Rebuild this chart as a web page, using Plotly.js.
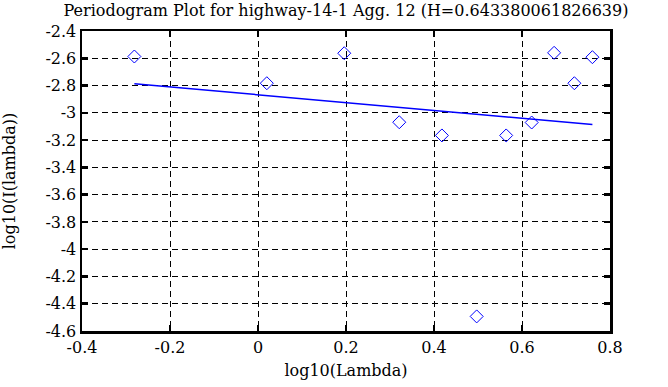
<!DOCTYPE html>
<html>
<head>
<meta charset="utf-8">
<script src="https://cdn.plot.ly/plotly-3.0.1.min.js"></script>
<style>
  html, body { margin: 0; padding: 0; background: #ffffff; }
  #chart { width: 668px; height: 387px; }
</style>
</head>
<body>
<div id="chart"></div>
<script>
// log10(Lambda) for each periodogram point
const logLambda = [-0.281, 0.020, 0.196, 0.321, 0.418, 0.497, 0.564, 0.622, 0.673, 0.719, 0.760];
// log10(I(lambda)) for each periodogram point
const logI = [-2.587, -2.783, -2.563, -3.069, -3.166, -4.493, -3.166, -3.071, -2.560, -2.783, -2.592];
// least-squares fit line end points
const fitX = [-0.281, 0.760];
const fitY = [-2.787, -3.086];

const xTickVals = [-0.4, -0.2, 0, 0.2, 0.4, 0.6, 0.8];
const xTickText = ["-0.4", "-0.2", "0", "0.2", "0.4", "0.6", "0.8"];
const yTickVals = [-2.4, -2.6, -2.8, -3, -3.2, -3.4, -3.6, -3.8, -4, -4.2, -4.4, -4.6];
const yTickText = ["-2.4", "-2.6", "-2.8", "-3", "-3.2", "-3.4", "-3.6", "-3.8", "-4", "-4.2", "-4.4", "-4.6"];

const titleText = "Periodogram Plot for highway-14-1 Agg. 12 (H=0.643380061826639)";
const xTitle = "log10(Lambda)";
const yTitle = "log10(I(lambda))";

const FONT = "DejaVu Serif";

const traces = [
  {
    x: logLambda, y: logI, type: "scatter", mode: "markers",
    marker: { symbol: "diamond-open", size: 10, color: "#0000ff", line: { width: 1, color: "#0000ff" } },
    hoverinfo: "skip"
  },
  {
    x: fitX, y: fitY, type: "scatter", mode: "lines",
    line: { color: "#0000ff", width: 1.5 },
    hoverinfo: "skip"
  }
];

const axisCommon = {
  showline: true, linecolor: "#000000", linewidth: 2.5, mirror: "ticks",
  ticks: "inside", ticklen: 6, tickwidth: 2.5, tickcolor: "#000000",
  showgrid: true, gridcolor: "#000000", gridwidth: 1, griddash: "6px,4px",
  zeroline: false, tickmode: "array",
  tickfont: { family: FONT, size: 16, color: "#000000" }
};

const layout = {
  width: 668, height: 387,
  margin: { l: 82, r: 58, t: 31, b: 56, pad: 0 },
  paper_bgcolor: "#ffffff", plot_bgcolor: "#ffffff",
  showlegend: false,
  font: { family: FONT, size: 16, color: "#000000" },
  title: {
    text: titleText, font: { family: FONT, size: 16, color: "#000000" },
    x: 0.5, xref: "paper", xanchor: "center",
    y: 1, yref: "container", yanchor: "top", pad: { t: 5 }
  },
  xaxis: Object.assign({}, axisCommon, {
    range: [-0.4, 0.8], tickvals: xTickVals, ticktext: xTickText,
    title: { text: xTitle, font: { family: FONT, size: 16, color: "#000000" }, standoff: 9 }
  }),
  yaxis: Object.assign({}, axisCommon, {
    range: [-4.6, -2.4], tickvals: yTickVals, ticktext: yTickText,
    title: { text: yTitle, font: { family: FONT, size: 16, color: "#000000" }, standoff: 27 }
  })
};

Plotly.newPlot("chart", traces, layout, { displayModeBar: false, staticPlot: true });
</script>
</body>
</html>
